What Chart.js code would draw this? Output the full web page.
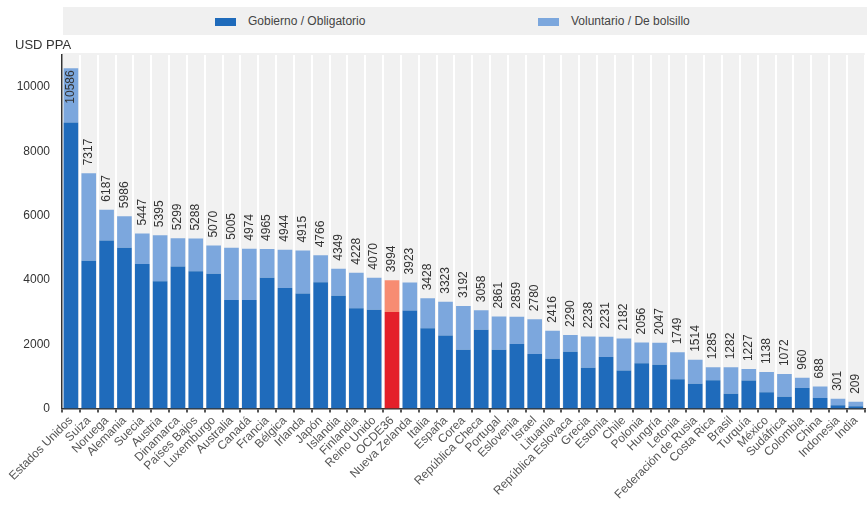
<!DOCTYPE html>
<html>
<head>
<meta charset="utf-8">
<script src="https://cdn.jsdelivr.net/npm/chart.js@4"></script>
<style>
  body { margin: 0; background: #fff; font-family: "Liberation Sans", Arial, sans-serif; }
  #wrap { position: relative; width: 867px; height: 510px; }
  #legend { position: absolute; left: 63px; top: 7px; width: 804px; height: 28px; background: #f0f0f0; }
  .item { position: absolute; top: 7px; font-size: 12px; color: #444; line-height: 14px; }
  .box { display: inline-block; width: 21px; height: 8px; vertical-align: -1px; margin-right: 12px; }
  #unit { position: absolute; left: 15px; top: 37px; font-size: 13px; color: #333; }
  canvas { position: absolute; left: 0; top: 0; }
</style>
</head>
<body>
<div id="wrap">
  <canvas id="myChart" width="867" height="510"></canvas>
  <div id="legend">
    <div class="item" style="left:152px"><span class="box" style="background:#1f6bbb"></span>Gobierno / Obligatorio</div>
    <div class="item" style="left:475px"><span class="box" style="background:#7ca7dd"></span>Voluntario / De bolsillo</div>
  </div>
  <div id="unit">USD PPA</div>
</div>
<script>
// data
const paises = [
  "Estados Unidos", "Suiza", "Noruega", "Alemania", "Suecia", "Austria", "Dinamarca",
  "Países Bajos", "Luxemburgo", "Australia", "Canadá", "Francia", "Bélgica", "Irlanda",
  "Japón", "Islandia", "Finlandia", "Reino Unido", "OCDE36", "Nueva Zelanda", "Italia",
  "España", "Corea", "República Checa", "Portugal", "Eslovenia", "Israel", "Lituania",
  "República Eslovaca", "Grecia", "Estonia", "Chile", "Polonia", "Hungría", "Letonia",
  "Federación de Rusia", "Costa Rica", "Brasil", "Turquía", "México", "Sudáfrica",
  "Colombia", "China", "Indonesia", "India"
];
const totales = [
  10586, 7317, 6187, 5986, 5447, 5395, 5299, 5288, 5070, 5005,
  4974, 4965, 4944, 4915, 4766, 4349, 4228, 4070, 3994, 3923,
  3428, 3323, 3192, 3058, 2861, 2859, 2780, 2416, 2290, 2238,
  2231, 2182, 2056, 2047, 1749, 1514, 1285, 1282, 1227, 1138,
  1072, 960, 688, 301, 209
];
const gobierno = [
  8900, 4600, 5230, 5000, 4500, 3960, 4420, 4270, 4190, 3380,
  3380, 4070, 3750, 3580, 3930, 3510, 3120, 3070, 3000, 3050,
  2500, 2270, 1830, 2450, 1830, 2010, 1700, 1550, 1770, 1270,
  1600, 1180, 1410, 1360, 910, 770, 880, 460, 870, 510,
  370, 640, 330, 100, 70
];
const voluntario = totales.map((t, i) => t - gobierno[i]);
const yTicks = [0, 2000, 4000, 6000, 8000, 10000];
const destacado = "OCDE36";

// colours, OECD average in red
const darkCol = paises.map(p => p === destacado ? '#e4202a' : '#1f6bbb');
const lightCol = paises.map(p => p === destacado ? '#f78c72' : '#7ca7dd');

// gray plot background
const plotBg = {
  id: 'plotBg',
  beforeDraw(chart) {
    const a = chart.chartArea;
    const ctx = chart.ctx;
    ctx.save();
    ctx.fillStyle = '#f1f1f1';
    ctx.fillRect(a.left, a.top - 2, a.right - a.left, a.bottom - a.top + 2);
    ctx.restore();
  }
};

// vertical total labels above each bar
const totalLabels = {
  id: 'totalLabels',
  afterDatasetsDraw(chart) {
    const ctx = chart.ctx;
    const meta = chart.getDatasetMeta(1);
    ctx.save();
    ctx.font = '12px "Liberation Sans", Arial, sans-serif';
    ctx.fillStyle = '#333';
    ctx.textBaseline = 'middle';
    meta.data.forEach((bar, i) => {
      const txt = String(totales[i]);
      const w = ctx.measureText(txt).width;
      ctx.save();
      if (bar.y - 8 - w < chart.chartArea.top) {
        ctx.translate(bar.x, bar.y + 2);
        ctx.rotate(-Math.PI / 2);
        ctx.textAlign = 'right';
      } else {
        ctx.translate(bar.x, bar.y - 8);
        ctx.rotate(-Math.PI / 2);
        ctx.textAlign = 'left';
      }
      ctx.fillText(txt, 0, 0);
      ctx.restore();
    });
    ctx.restore();
  }
};

const config = {
  type: 'bar',
  data: {
    labels: paises,
    datasets: [
      {
        label: 'Gobierno / Obligatorio',
        data: gobierno,
        backgroundColor: darkCol,
        barPercentage: 0.82,
        categoryPercentage: 1
      },
      {
        label: 'Voluntario / De bolsillo',
        data: voluntario,
        backgroundColor: lightCol,
        barPercentage: 0.82,
        categoryPercentage: 1
      }
    ]
  },
  options: {
    responsive: false,
    animation: false,
    layout: { padding: { top: 55, right: 1, left: 0, bottom: 7 } },
    plugins: {
      legend: { display: false },
      tooltip: { enabled: false }
    },
    scales: {
      x: {
        stacked: true,
        grid: { color: '#ffffff', lineWidth: 2, tickColor: '#555', tickLength: 4, offset: true },
        border: { color: '#333', width: 1.5 },
        ticks: {
          autoSkip: false,
          minRotation: 45,
          maxRotation: 45,
          padding: 1,
          color: '#555',
          font: { family: '"Liberation Sans", Arial, sans-serif', size: 12 }
        }
      },
      y: {
        stacked: true,
        min: 0,
        max: 11000,
        afterBuildTicks: s => { s.ticks = yTicks.map(v => ({ value: v })); },
        afterFit: s => { s.width = 62; },
        grid: { display: false },
        border: { color: '#333', width: 1.5 },
        ticks: {
          padding: 4,
          color: '#333',
          callback: v => String(v),
          font: { family: '"Liberation Sans", Arial, sans-serif', size: 12 }
        }
      }
    }
  },
  plugins: [plotBg, totalLabels]
};

var myChart = new Chart(document.getElementById('myChart'), config);
</script>
</body>
</html>
